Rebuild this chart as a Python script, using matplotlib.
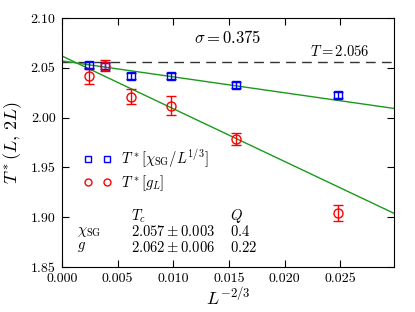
import numpy as np
import matplotlib
matplotlib.use("Agg")
import matplotlib.pyplot as plt
from matplotlib.lines import Line2D

plt.rcParams['font.family'] = 'serif'
plt.rcParams['font.serif'] = ['cmr10', 'DejaVu Serif']
plt.rcParams['mathtext.fontset'] = 'cm'
plt.rcParams['axes.formatter.use_mathtext'] = True
plt.rcParams['font.size'] = 10

# L^{-2/3} for L = 256 ... 8192
x_chi = [0.002461, 0.003906, 0.006201, 0.009843, 0.015625, 0.024803]
y_chi = [2.053, 2.052, 2.042, 2.0415, 2.0327, 2.0225]
e_chi = [0.003, 0.003, 0.003, 0.003, 0.003, 0.003]

x_g = [0.002461, 0.003906, 0.006201, 0.009843, 0.015625, 0.024803]
y_g = [2.0415, 2.052, 2.021, 2.012, 1.9785, 1.904]
e_g = [0.0075, 0.0055, 0.0074, 0.0098, 0.006, 0.008]

# linear fits: intercept, slope
fit_chi = (2.057, -1.60)
fit_g = (2.062, -5.30)
T_line = 2.056

fig = plt.figure(figsize=(4.15, 3.12), dpi=100)
ax = fig.add_axes([0.149, 0.144, 0.800, 0.798])

xf = np.array([0.0, 0.0298])
ax.plot(xf, fit_chi[0] + fit_chi[1] * xf, color='#1a9a1a', lw=1.0, zorder=1)
ax.plot(xf, fit_g[0] + fit_g[1] * xf, color='#1a9a1a', lw=1.0, zorder=1)
ax.axhline(T_line, color='#333333', ls=(0, (7, 4.5)), lw=1.0, zorder=0)

ax.errorbar(x_chi, y_chi, yerr=e_chi, fmt='s', mfc='none', mec='blue', ecolor='blue',
            ms=6, mew=1.0, capsize=3.5, elinewidth=1.0)
ax.errorbar(x_g, y_g, yerr=e_g, fmt='o', mfc='none', mec='red', ecolor='red',
            ms=6.5, mew=1.0, capsize=3.5, elinewidth=1.0)

ax.set_xlim(0, 0.0298)
ax.set_ylim(1.85, 2.10)
ax.set_xticks([0.0, 0.005, 0.010, 0.015, 0.020, 0.025])
ax.set_xticklabels(['0.000', '0.005', '0.010', '0.015', '0.020', '0.025'])
ax.set_yticks([1.85, 1.90, 1.95, 2.00, 2.05, 2.10])
ax.set_yticklabels(['1.85', '1.90', '1.95', '2.00', '2.05', '2.10'])
ax.tick_params(direction='in', top=True, right=True, length=5, width=0.8)
ax.tick_params(axis='x', pad=4)
ax.tick_params(axis='y', pad=4.5)

ax.set_xlabel(r'$L^{-2/3}$', fontsize=13, labelpad=0)
ax.set_ylabel(r'$T^*(L,\,2L)$', fontsize=13, labelpad=5)

ax.text(0.0149, 2.081, r'$\sigma = 0.375$', fontsize=12, ha='center', va='center')
ax.text(0.0276, 2.0585, r'$T = 2.056$', fontsize=10.5, ha='right', va='bottom')

handles = [
    Line2D([], [], ls='none', marker='s', mfc='none', mec='blue', ms=4.5, mew=1.0),
    Line2D([], [], ls='none', marker='o', mfc='none', mec='red', ms=5, mew=1.0),
]
labels = [r'$T^*[\chi_{\rm SG}/L^{1/3}]$', r'$T^*[g_L]$']
ax.legend(handles, labels, loc='upper left', bbox_to_anchor=(0.043, 0.507), numpoints=2,
          frameon=False, fontsize=10.5, handlelength=1.9, handletextpad=0.7,
          labelspacing=0.22, borderaxespad=0.0, borderpad=0.5)

ax.text(0.0062, 1.9015, r'$T_c$', fontsize=10.5, ha='left', va='center')
ax.text(0.0151, 1.9015, r'$Q$', fontsize=10.5, ha='left', va='center')
ax.text(0.0014, 1.8853, r'$\chi_{\rm SG}$', fontsize=10.5, ha='left', va='center')
ax.text(0.0062, 1.8853, r'$2.057 \pm 0.003$', fontsize=10.5, ha='left', va='center')
ax.text(0.0151, 1.8853, r'$0.4$', fontsize=10.5, ha='left', va='center')
ax.text(0.0014, 1.870, r'$g$', fontsize=10.5, ha='left', va='center')
ax.text(0.0062, 1.870, r'$2.062 \pm 0.006$', fontsize=10.5, ha='left', va='center')
ax.text(0.0151, 1.870, r'$0.22$', fontsize=10.5, ha='left', va='center')

fig.savefig('out.png', dpi=100)
